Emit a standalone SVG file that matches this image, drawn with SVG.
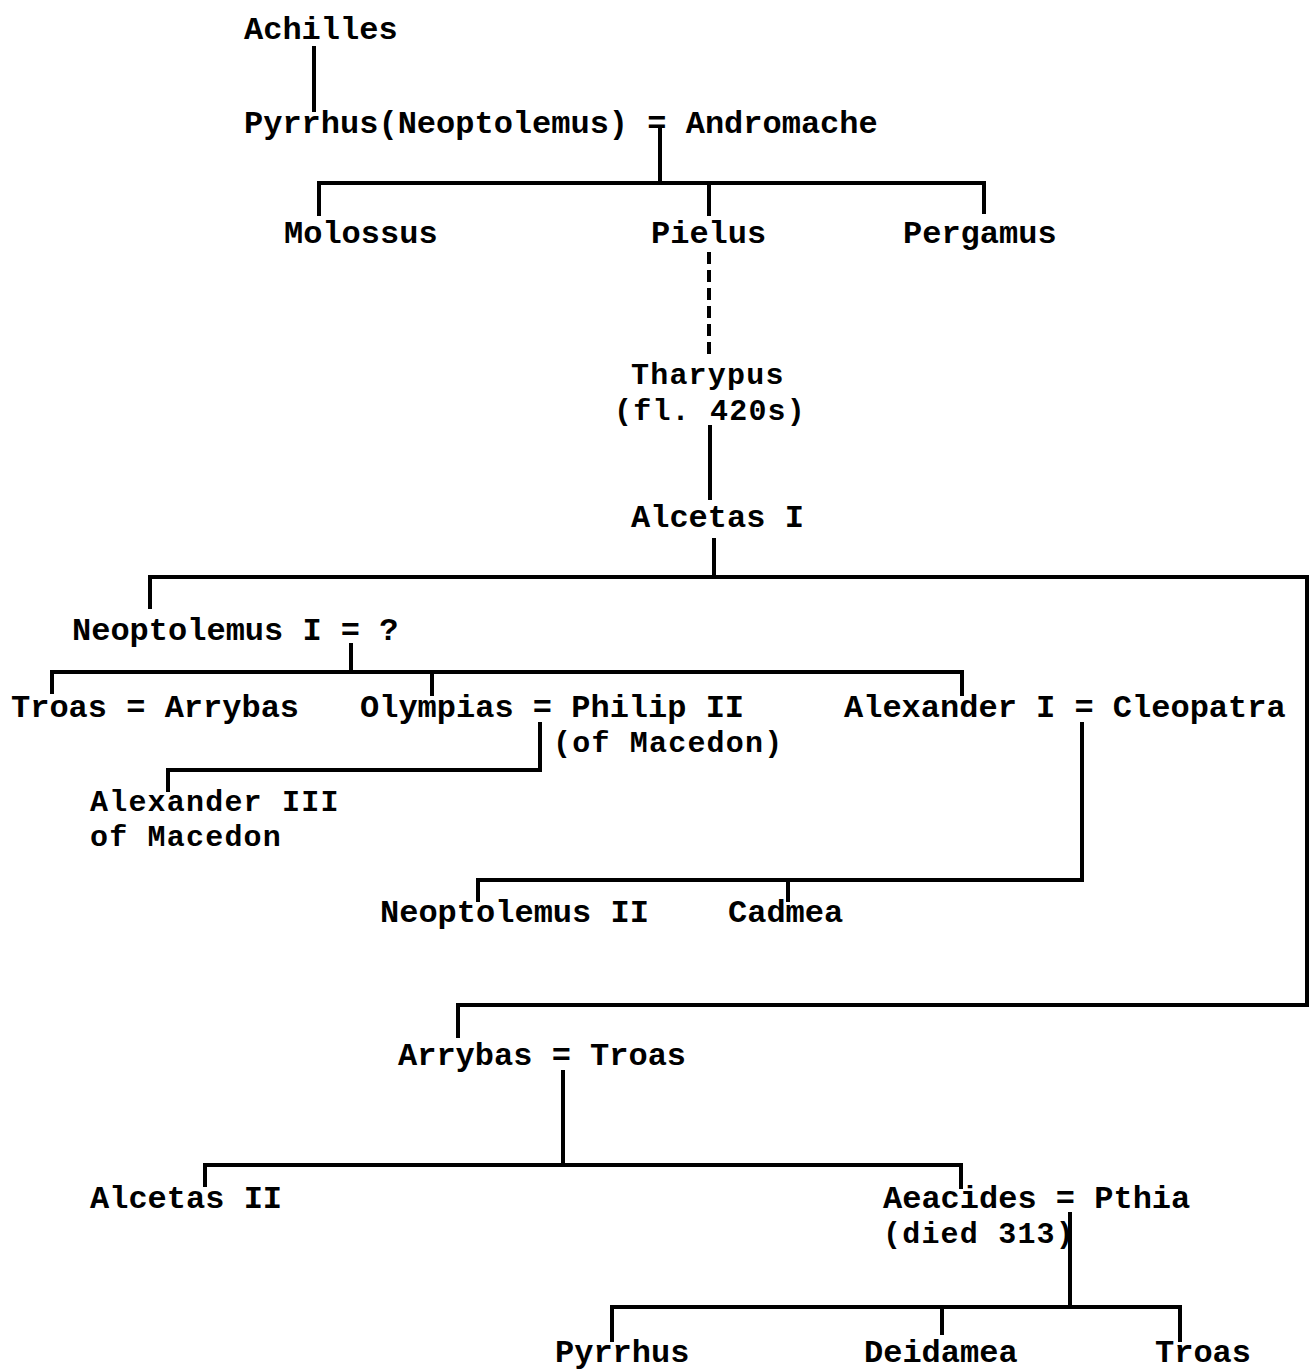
<svg xmlns="http://www.w3.org/2000/svg" width="1309" height="1372" viewBox="0 0 1309 1372">
<style>
text{font-family:"Liberation Mono","DejaVu Sans Mono",monospace;font-weight:bold;font-size:32px;fill:#000}
text.two{font-size:30px;letter-spacing:1.2px}
.l{stroke:#000;stroke-width:4;fill:none;stroke-linecap:square}
.d{stroke:#000;stroke-width:4;fill:none;stroke-dasharray:12,6}
</style>
<rect width="1309" height="1372" fill="#fff"/>
<g id="connectors">
<path class="l" d="M314 48V110"/>
<path class="l" d="M660 128V183M319 183H984M319 183V214M709 183V214M984 183V212"/>
<path class="d" d="M709 252V360"/>
<path class="l" d="M710 427V498"/>
<path class="l" d="M714 540V577M150 577H1309M150 577V607"/>
<path class="l" d="M1307 577V1005"/>
<path class="l" d="M351 645V672M52 672H962M52 672V692M432 672V694M962 672V694"/>
<path class="l" d="M540 724V770H168V790"/>
<path class="l" d="M1082 724V880H478V900M788 880V900"/>
<path class="l" d="M458 1005H1309M458 1005V1036"/>
<path class="l" d="M563 1072V1165M205 1165H961M205 1165V1185M961 1165V1187"/>
<path class="l" d="M1070 1214V1307M612 1307H1180M612 1307V1340M942 1307V1333M1180 1307V1340"/>
</g>
<g id="n-achilles"><text x="244" y="39">Achilles</text></g>
<g id="n-pyrrhus-andromache"><text x="244" y="133">Pyrrhus(Neoptolemus) = Andromache</text></g>
<g id="n-molossus"><text x="284" y="243">Molossus</text></g>
<g id="n-pielus"><text x="651" y="243">Pielus</text></g>
<g id="n-pergamus"><text x="903" y="243">Pergamus</text></g>
<g id="n-tharypus"><text class="two"><tspan x="631" y="384">Tharypus</tspan><tspan x="614" y="420">(fl. 420s)</tspan></text></g>
<g id="n-alcetas1"><text x="631" y="527">Alcetas I</text></g>
<g id="n-neoptolemus1"><text x="72" y="640">Neoptolemus I = ?</text></g>
<g id="n-troas-arrybas"><text x="11" y="717">Troas = Arrybas</text></g>
<g id="n-olympias-philip"><text x="360" y="717">Olympias = Philip II</text><text class="two" x="553" y="752">(of Macedon)</text></g>
<g id="n-alexander1"><text x="844" y="717">Alexander I = Cleopatra</text></g>
<g id="n-alexander3"><text class="two"><tspan x="90" y="811">Alexander III</tspan><tspan x="90" y="846">of Macedon</tspan></text></g>
<g id="n-neoptolemus2"><text x="380" y="922">Neoptolemus II</text></g>
<g id="n-cadmea"><text x="728" y="922">Cadmea</text></g>
<g id="n-arrybas-troas"><text x="398" y="1065">Arrybas = Troas</text></g>
<g id="n-alcetas2"><text x="90" y="1208">Alcetas II</text></g>
<g id="n-aeacides"><text x="883" y="1208">Aeacides = Pthia</text><text class="two" x="883" y="1243">(died 313)</text></g>
<g id="n-pyrrhus"><text x="555" y="1362">Pyrrhus</text></g>
<g id="n-deidamea"><text x="864" y="1362">Deidamea</text></g>
<g id="n-troas2"><text x="1155" y="1362">Troas</text></g>
</svg>
